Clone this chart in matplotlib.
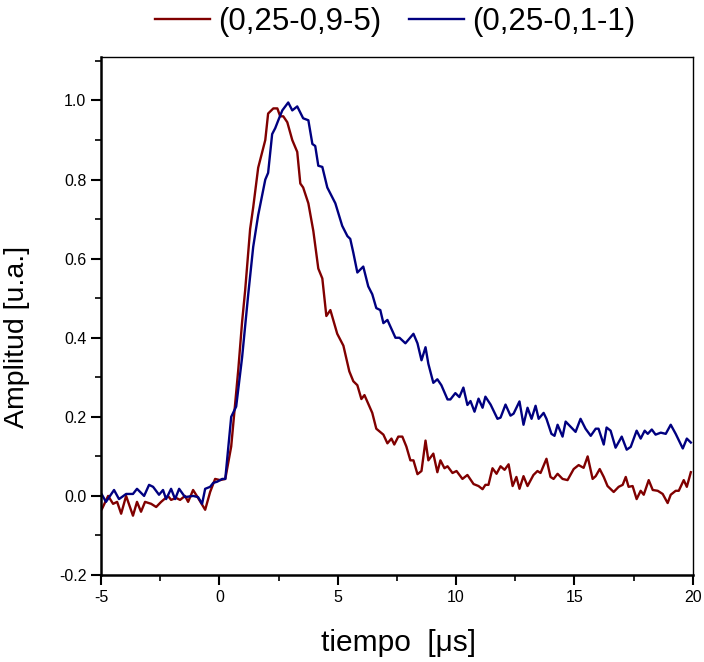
import matplotlib
matplotlib.use('Agg')
import matplotlib.pyplot as plt
from matplotlib.ticker import MultipleLocator, FormatStrFormatter

# (0,25-0,9-5) trace
t_red = [-4.96, -4.70, -4.49, -4.32, -4.15, -3.94, -3.65, -3.48, -3.31, -3.14,
         -2.88, -2.67, -2.46, -2.17, -2.04, -1.83, -1.66, -1.45, -1.32, -1.11,
         -0.90, -0.60, -0.39, -0.18, 0.03, 0.25, 0.50, 0.80, 0.96, 1.09,
         1.30, 1.43, 1.64, 1.81, 1.94, 2.06, 2.28, 2.45, 2.57, 2.70,
         2.87, 3.08, 3.29, 3.42, 3.54, 3.76, 3.97, 4.18, 4.35, 4.52,
         4.69, 4.98, 5.24, 5.49, 5.66, 5.83, 6.00, 6.13, 6.46, 6.63,
         6.93, 7.10, 7.27, 7.39, 7.56, 7.73, 7.90, 8.07, 8.20, 8.37,
         8.54, 8.71, 8.83, 9.04, 9.21, 9.34, 9.51, 9.64, 9.85, 10.02,
         10.27, 10.48, 10.74, 10.95, 11.12, 11.24, 11.37, 11.54, 11.71, 11.88,
         12.05, 12.22, 12.39, 12.55, 12.68, 12.85, 13.02, 13.27, 13.44, 13.57,
         13.82, 13.99, 14.12, 14.29, 14.50, 14.71, 14.97, 15.18, 15.39, 15.56,
         15.77, 15.90, 16.07, 16.24, 16.40, 16.66, 16.87, 17.04, 17.17, 17.29,
         17.46, 17.63, 17.80, 17.93, 18.14, 18.31, 18.52, 18.73, 18.94, 19.07,
         19.28, 19.41, 19.62, 19.75, 19.92]
a_red = [-0.033, 0.000, -0.020, -0.015, -0.045, 0.000, -0.050, -0.015, -0.040, -0.015,
         -0.020, -0.028, -0.015, 0.000, -0.010, -0.005, -0.010, 0.000, -0.015, 0.015,
         -0.005, -0.035, 0.010, 0.043, 0.040, 0.043, 0.125, 0.320, 0.440, 0.520,
         0.675, 0.730, 0.830, 0.870, 0.900, 0.967, 0.980, 0.980, 0.960, 0.960,
         0.945, 0.900, 0.870, 0.790, 0.780, 0.740, 0.670, 0.575, 0.550, 0.455,
         0.470, 0.410, 0.380, 0.315, 0.290, 0.280, 0.245, 0.255, 0.210, 0.170,
         0.155, 0.133, 0.145, 0.130, 0.150, 0.150, 0.125, 0.090, 0.090, 0.055,
         0.063, 0.140, 0.090, 0.107, 0.060, 0.090, 0.070, 0.075, 0.058, 0.063,
         0.043, 0.053, 0.030, 0.025, 0.017, 0.028, 0.028, 0.070, 0.056, 0.075,
         0.066, 0.080, 0.025, 0.048, 0.018, 0.050, 0.025, 0.053, 0.063, 0.058,
         0.094, 0.048, 0.043, 0.056, 0.043, 0.040, 0.068, 0.078, 0.071, 0.100,
         0.043, 0.050, 0.068, 0.048, 0.025, 0.010, 0.023, 0.028, 0.048, 0.023,
         0.025, -0.008, 0.013, 0.003, 0.040, 0.015, 0.013, 0.005, -0.018, 0.003,
         0.013, 0.013, 0.040, 0.023, 0.060]

# (0,25-0,1-1) trace
t_blue = [-4.96, -4.79, -4.45, -4.24, -3.94, -3.65, -3.48, -3.18, -2.97, -2.80,
          -2.55, -2.38, -2.25, -2.04, -1.87, -1.70, -1.45, -1.11, -0.90, -0.73,
          -0.60, -0.39, -0.26, -0.09, 0.12, 0.25, 0.33, 0.50, 0.71, 0.96,
          1.09, 1.22, 1.43, 1.64, 1.94, 2.06, 2.23, 2.36, 2.49, 2.66,
          2.91, 3.08, 3.29, 3.54, 3.76, 3.93, 4.05, 4.18, 4.35, 4.56,
          4.77, 4.90, 5.19, 5.41, 5.53, 5.66, 5.83, 6.08, 6.29, 6.46,
          6.63, 6.80, 6.93, 7.10, 7.44, 7.61, 7.86, 8.20, 8.37, 8.54,
          8.71, 8.83, 9.04, 9.21, 9.38, 9.64, 9.76, 9.97, 10.14, 10.31,
          10.48, 10.61, 10.78, 10.95, 11.12, 11.24, 11.46, 11.75, 11.88, 12.09,
          12.30, 12.43, 12.68, 12.85, 13.02, 13.19, 13.36, 13.49, 13.70, 13.82,
          14.03, 14.16, 14.29, 14.50, 14.63, 14.84, 15.05, 15.26, 15.47, 15.69,
          15.90, 16.02, 16.24, 16.36, 16.53, 16.74, 17.00, 17.21, 17.38, 17.63,
          17.80, 17.97, 18.10, 18.27, 18.43, 18.65, 18.86, 19.07, 19.28, 19.58,
          19.75, 19.92]
a_blue = [0.003, -0.015, 0.015, -0.008, 0.005, 0.005, 0.018, 0.000, 0.028, 0.023,
          0.003, 0.015, -0.008, 0.018, -0.008, 0.018, -0.003, 0.000, -0.003, -0.020,
          0.018, 0.023, 0.033, 0.036, 0.043, 0.043, 0.094, 0.200, 0.226, 0.350,
          0.430, 0.510, 0.630, 0.710, 0.800, 0.817, 0.915, 0.930, 0.950, 0.975,
          0.995, 0.975, 0.985, 0.955, 0.950, 0.890, 0.885, 0.835, 0.832, 0.780,
          0.755, 0.740, 0.683, 0.657, 0.650, 0.615, 0.565, 0.580, 0.530, 0.510,
          0.475, 0.470, 0.437, 0.445, 0.400, 0.400, 0.386, 0.410, 0.386, 0.343,
          0.376, 0.334, 0.286, 0.295, 0.280, 0.244, 0.244, 0.260, 0.250, 0.274,
          0.230, 0.240, 0.213, 0.246, 0.223, 0.251, 0.231, 0.195, 0.198, 0.231,
          0.203, 0.208, 0.239, 0.180, 0.223, 0.195, 0.228, 0.195, 0.210, 0.195,
          0.157, 0.152, 0.180, 0.150, 0.188, 0.175, 0.162, 0.195, 0.170, 0.152,
          0.170, 0.170, 0.130, 0.173, 0.165, 0.122, 0.150, 0.117, 0.124, 0.165,
          0.145, 0.165, 0.157, 0.168, 0.155, 0.160, 0.157, 0.180, 0.157, 0.120,
          0.145, 0.135]

labels = ['(0,25-0,9-5)', '(0,25-0,1-1)']

plt.rcParams['font.family'] = ['Liberation Sans', 'DejaVu Sans']
plt.rcParams['axes.unicode_minus'] = False

fig = plt.figure(figsize=(7.04, 6.62), dpi=100)
ax = fig.add_axes([0.1435, 0.1314, 0.8405, 0.7825])

ax.plot(t_red, a_red, color='#800000', lw=1.7, label=labels[0])
ax.plot(t_blue, a_blue, color='#000080', lw=1.7, label=labels[1])

ax.set_xlim(-5, 20)
ax.set_ylim(-0.2, 1.11)
ax.xaxis.set_major_locator(MultipleLocator(5))
ax.xaxis.set_minor_locator(MultipleLocator(2.5))
ax.yaxis.set_major_locator(MultipleLocator(0.2))
ax.yaxis.set_minor_locator(MultipleLocator(0.1))
ax.yaxis.set_major_formatter(FormatStrFormatter('%.1f'))

ax.tick_params(which='major', direction='out', length=7, width=1.5, labelsize=11.5)
ax.tick_params(which='minor', direction='out', length=4, width=1.2)
ax.tick_params(top=False, right=False, which='both')

for side in ['left', 'bottom']:
    ax.spines[side].set_linewidth(1.8)
for side in ['top', 'right']:
    ax.spines[side].set_linewidth(1.0)

ax.set_xlabel('tiempo  [\u03bcs]', fontsize=21.5)
ax.xaxis.set_label_coords(0.502, -0.105)
ax.set_ylabel('Amplitud [u.a.]', fontsize=20.5)
ax.yaxis.set_label_coords(-0.12, 0.46)

ax.legend(loc='center', bbox_to_anchor=(0.497, 1.067), ncol=2, frameon=False,
          fontsize=22.5, handlelength=1.75, columnspacing=0.9, handletextpad=0.25,
          borderaxespad=0.0, borderpad=0.0)

fig.savefig('out.png', dpi=100)
